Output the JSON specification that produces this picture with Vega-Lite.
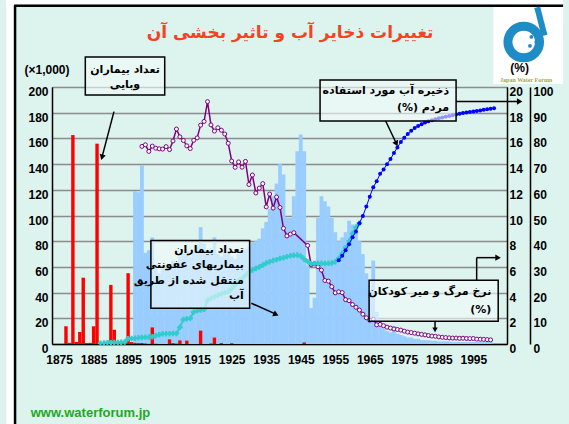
{
"$schema": "https://vega.github.io/schema/vega-lite/v6.json",
"width": 455, "height": 257,
"autosize": {"type": "none"},
"padding": {"left": 52, "top": 87, "right": 62, "bottom": 80},
"background": "#ddf3ee",
"config": {
  "view": {"stroke": "#555", "strokeWidth": 1},
  "axis": {"labelFont": "Liberation Sans", "labelFontWeight": "bold", "labelFontSize": 12, "labelColor": "#000", "ticks": false, "domainColor": "#000", "domainWidth": 1.5, "grid": false, "labelFlush": false, "labelOverlap": false},
  "axisY": {"labelOffset": 4.5, "labelBaseline": "middle"}
},
"datasets": {
  "infect": [
    {"year":1897,"v":119},{"year":1898,"v":118},{"year":1899,"v":139},{"year":1900,"v":71},{"year":1901,"v":73},{"year":1902,"v":83},
    {"year":1903,"v":62},{"year":1904,"v":55},{"year":1905,"v":60},{"year":1906,"v":58},{"year":1907,"v":62},{"year":1908,"v":65},
    {"year":1909,"v":60},{"year":1910,"v":68},{"year":1911,"v":70},{"year":1912,"v":72},{"year":1913,"v":68},{"year":1914,"v":72},
    {"year":1915,"v":76},{"year":1916,"v":91},{"year":1917,"v":78},{"year":1918,"v":70},{"year":1919,"v":74},{"year":1920,"v":83},
    {"year":1921,"v":70},{"year":1922,"v":68},{"year":1923,"v":72},{"year":1924,"v":70},{"year":1925,"v":68},{"year":1926,"v":66},
    {"year":1927,"v":70},{"year":1928,"v":72},{"year":1929,"v":74},{"year":1930,"v":76},{"year":1931,"v":79},{"year":1932,"v":80},
    {"year":1933,"v":82},{"year":1934,"v":90},{"year":1935,"v":95},{"year":1936,"v":105},{"year":1937,"v":115},{"year":1938,"v":125},
    {"year":1939,"v":140},{"year":1940,"v":132},{"year":1941,"v":98},{"year":1942,"v":98},{"year":1943,"v":115},{"year":1944,"v":150},
    {"year":1945,"v":163},{"year":1946,"v":150},{"year":1947,"v":61},{"year":1948,"v":28},{"year":1949,"v":36},{"year":1950,"v":98},
    {"year":1951,"v":115},{"year":1952,"v":111},{"year":1953,"v":107},{"year":1954,"v":98},{"year":1955,"v":87},{"year":1956,"v":80},
    {"year":1957,"v":83},{"year":1958,"v":87},{"year":1959,"v":96},{"year":1960,"v":93},{"year":1961,"v":88},{"year":1962,"v":80},
    {"year":1963,"v":70},{"year":1964,"v":55},{"year":1965,"v":42},{"year":1966,"v":65},{"year":1967,"v":25},{"year":1968,"v":16},
    {"year":1969,"v":12},{"year":1970,"v":10},{"year":1971,"v":9},{"year":1972,"v":14},{"year":1973,"v":8},{"year":1974,"v":7},
    {"year":1975,"v":6},{"year":1976,"v":5},{"year":1977,"v":5},{"year":1978,"v":4},{"year":1979,"v":4},{"year":1980,"v":3},
    {"year":1981,"v":3},{"year":1982,"v":3},{"year":1983,"v":2.5},{"year":1984,"v":2.5},{"year":1985,"v":2},{"year":1986,"v":2},
    {"year":1987,"v":2},{"year":1988,"v":2},{"year":1989,"v":1.5},{"year":1990,"v":1.5},{"year":1991,"v":1.5},{"year":1992,"v":1.5},
    {"year":1993,"v":1.5},{"year":1994,"v":1.5},{"year":1995,"v":1.5},{"year":1996,"v":1.5},{"year":1997,"v":1.5},{"year":1998,"v":1.5},
    {"year":1999,"v":1.5},{"year":2000,"v":1.5}
  ],
  "cholera": [
    {"year":1877,"v":13.8},{"year":1878,"v":0.9},{"year":1879,"v":162.6},{"year":1880,"v":1.6},{"year":1881,"v":9.4},{"year":1882,"v":51.6},
    {"year":1883,"v":0.7},{"year":1884,"v":0.9},{"year":1885,"v":13.8},{"year":1886,"v":155.9},{"year":1887,"v":1.2},{"year":1888,"v":0.8},
    {"year":1889,"v":0.8},{"year":1890,"v":46.0},{"year":1891,"v":11.1},{"year":1892,"v":0.9},{"year":1893,"v":0.6},{"year":1894,"v":0.5},
    {"year":1895,"v":55.1},{"year":1896,"v":1.5},{"year":1897,"v":0.9},{"year":1898,"v":0.7},{"year":1899,"v":0.8},{"year":1900,"v":0.4},
    {"year":1901,"v":0.1},{"year":1902,"v":12.9},{"year":1903,"v":0.2},{"year":1907,"v":3.6},{"year":1908,"v":0.7},{"year":1909,"v":0.3},
    {"year":1910,"v":2.8},{"year":1912,"v":2.6},{"year":1916,"v":10.4},{"year":1919,"v":0.4},{"year":1920,"v":5.0},{"year":1922,"v":0.7},
    {"year":1925,"v":0.6},{"year":1946,"v":1.2}
  ],
  "mort": [
    {"year":1899,"v":15.38},{"year":1900,"v":15.5},{"year":1901,"v":14.99},{"year":1902,"v":15.4},{"year":1903,"v":15.24},{"year":1904,"v":15.19},
    {"year":1905,"v":15.17},{"year":1906,"v":15.36},{"year":1907,"v":15.13},{"year":1908,"v":15.8},{"year":1909,"v":16.73},{"year":1910,"v":16.12},
    {"year":1911,"v":15.84},{"year":1912,"v":15.42},{"year":1913,"v":15.21},{"year":1914,"v":15.85},{"year":1915,"v":16.04},{"year":1916,"v":17.03},
    {"year":1917,"v":17.32},{"year":1918,"v":18.86},{"year":1919,"v":17.05},{"year":1920,"v":16.57},{"year":1921,"v":16.83},{"year":1922,"v":16.64},
    {"year":1923,"v":16.34},{"year":1924,"v":15.62},{"year":1925,"v":14.24},{"year":1926,"v":13.75},{"year":1927,"v":14.17},{"year":1928,"v":13.76},
    {"year":1929,"v":14.21},{"year":1930,"v":12.41},{"year":1931,"v":13.15},{"year":1932,"v":11.75},{"year":1933,"v":12.13},{"year":1934,"v":12.48},
    {"year":1935,"v":10.67},{"year":1936,"v":11.67},{"year":1937,"v":10.58},{"year":1938,"v":11.44},{"year":1939,"v":10.62},{"year":1940,"v":9.0},
    {"year":1941,"v":8.41},{"year":1942,"v":8.55},{"year":1943,"v":8.66},{"year":1947,"v":7.67},{"year":1948,"v":6.17},{"year":1949,"v":6.25},
    {"year":1950,"v":6.01},{"year":1951,"v":5.75},{"year":1952,"v":4.94},{"year":1953,"v":4.89},{"year":1954,"v":4.46},{"year":1955,"v":3.98},
    {"year":1956,"v":4.06},{"year":1957,"v":4.0},{"year":1958,"v":3.45},{"year":1959,"v":3.37},{"year":1960,"v":3.07},{"year":1961,"v":2.86},
    {"year":1962,"v":2.64},{"year":1963,"v":2.32},{"year":1964,"v":2.04},{"year":1965,"v":1.85},{"year":1966,"v":1.93},{"year":1967,"v":1.49},
    {"year":1968,"v":1.53},{"year":1969,"v":1.42},{"year":1970,"v":1.31},{"year":1971,"v":1.24},{"year":1972,"v":1.17},{"year":1973,"v":1.13},
    {"year":1974,"v":1.08},{"year":1975,"v":1.0},{"year":1976,"v":0.93},{"year":1977,"v":0.89},{"year":1978,"v":0.84},{"year":1979,"v":0.79},
    {"year":1980,"v":0.75},{"year":1981,"v":0.71},{"year":1982,"v":0.66},{"year":1983,"v":0.62},{"year":1984,"v":0.6},{"year":1985,"v":0.55},
    {"year":1986,"v":0.52},{"year":1987,"v":0.5},{"year":1988,"v":0.48},{"year":1989,"v":0.46},{"year":1990,"v":0.46},{"year":1991,"v":0.44},
    {"year":1992,"v":0.45},{"year":1993,"v":0.43},{"year":1994,"v":0.42},{"year":1995,"v":0.43},{"year":1996,"v":0.38},{"year":1997,"v":0.37},
    {"year":1998,"v":0.36},{"year":1999,"v":0.34},{"year":2000,"v":0.32}
  ],
  "teal": [
    {"year":1887,"v":0.3},{"year":1888,"v":0.4},{"year":1889,"v":0.5},{"year":1890,"v":0.5},{"year":1891,"v":0.6},{"year":1892,"v":0.6},
    {"year":1893,"v":0.7},{"year":1894,"v":0.8},{"year":1895,"v":2.0},{"year":1896,"v":2.1},{"year":1897,"v":2.2},{"year":1898,"v":2.4},
    {"year":1899,"v":2.5},{"year":1900,"v":2.6},{"year":1901,"v":2.7},{"year":1902,"v":2.8},{"year":1903,"v":3.2},{"year":1904,"v":3.6},
    {"year":1905,"v":4.0},{"year":1906,"v":4.0},{"year":1907,"v":4.0},{"year":1908,"v":4.1},{"year":1909,"v":4.1},{"year":1910,"v":6.5},
    {"year":1911,"v":9.5},{"year":1912,"v":9.8},{"year":1913,"v":10.0},{"year":1914,"v":12.4},{"year":1915,"v":13.0},{"year":1916,"v":13.2},
    {"year":1917,"v":13.5},{"year":1918,"v":17.0},{"year":1919,"v":17.8},{"year":1920,"v":18.3},{"year":1921,"v":19.0},{"year":1922,"v":19.5},
    {"year":1923,"v":20.0},{"year":1924,"v":20.4},{"year":1925,"v":21.5},{"year":1926,"v":23.0},{"year":1927,"v":24.5},{"year":1928,"v":25.5},
    {"year":1929,"v":26.8},{"year":1930,"v":28.0},{"year":1931,"v":28.8},{"year":1932,"v":29.4},{"year":1933,"v":30.0},{"year":1934,"v":30.7},
    {"year":1935,"v":31.5},{"year":1936,"v":32.0},{"year":1937,"v":32.5},{"year":1938,"v":32.8},{"year":1939,"v":33.3},{"year":1940,"v":33.6},
    {"year":1941,"v":34.0},{"year":1942,"v":34.3},{"year":1943,"v":34.5},{"year":1944,"v":34.6},{"year":1945,"v":34.2},{"year":1946,"v":33.0},
    {"year":1947,"v":32.0},{"year":1948,"v":31.3},{"year":1949,"v":31.3},{"year":1950,"v":31.3},{"year":1951,"v":31.4},{"year":1952,"v":31.3},
    {"year":1953,"v":31.4},{"year":1954,"v":31.5},{"year":1955,"v":32.0},{"year":1956,"v":33.3},{"year":1957,"v":35.2},{"year":1958,"v":37.5},
    {"year":1959,"v":40.0},{"year":1960,"v":43.0},{"year":1961,"v":45.5},{"year":1962,"v":47.0}
  ],
  "cover": [
    {"year":1956,"v":32.6},{"year":1957,"v":34.3},{"year":1958,"v":36.5},{"year":1959,"v":38.8},{"year":1960,"v":41.5},{"year":1961,"v":43.8},
    {"year":1962,"v":47.0},{"year":1963,"v":49.8},{"year":1964,"v":53.5},{"year":1965,"v":57.3},{"year":1966,"v":61.0},{"year":1967,"v":63.3},
    {"year":1968,"v":66.2},{"year":1969,"v":67.9},{"year":1970,"v":69.9},{"year":1971,"v":72.0},{"year":1972,"v":74.3},{"year":1973,"v":76.5},
    {"year":1974,"v":78.6},{"year":1975,"v":80.3},{"year":1976,"v":81.7},{"year":1977,"v":83.0},{"year":1978,"v":84.0},{"year":1979,"v":84.8},
    {"year":1980,"v":85.5},{"year":1981,"v":86.2},{"year":1982,"v":86.7},{"year":1983,"v":87.1},{"year":1984,"v":87.5},{"year":1985,"v":87.8},
    {"year":1986,"v":88.1},{"year":1987,"v":88.4},{"year":1988,"v":88.7},{"year":1989,"v":89.0},{"year":1990,"v":89.3},{"year":1991,"v":89.6},
    {"year":1992,"v":89.9},{"year":1993,"v":90.1},{"year":1994,"v":90.3},{"year":1995,"v":90.5},{"year":1996,"v":90.7},{"year":1997,"v":90.9},
    {"year":1998,"v":91.1},{"year":1999,"v":91.3},{"year":2000,"v":91.5},{"year":2001,"v":91.7}
  ],
  "boxes": [
    {"year":1882.6,"year2":1905.6,"v":223.4,"v2":193.8},
    {"year":1950.6,"year2":1990.0,"v":205.4,"v2":173.5},
    {"year":1901.6,"year2":1930.2,"v":80.6,"v2":27.8},
    {"year":1964.8,"year2":2002.2,"v":49.6,"v2":17.7}
  ],
  "arrows": [
    {"year":1890.9,"year2":1887.4,"v":180.8,"v2":145.0},
    {"year":1990.0,"year2":2008.0,"v":188.7,"v2":188.7},
    {"year":1969.6,"year2":1972.7,"v":173.5,"v2":156.0},
    {"year":1930.7,"year2":1937.8,"v":31.7,"v2":23.2},
    {"year":1995.96,"year2":1995.96,"v":49.6,"v2":67.2},
    {"year":1995.96,"year2":2001.9,"v":67.2,"v2":67.2},
    {"year":1983.9,"year2":1983.9,"v":17.1,"v2":11.0}
  ],
  "labelsRight": [
    {"year":1988.0,"v":196.5,"t":"ذخیره آب مورد استفاده"},
    {"year":1988.0,"v":183.7,"t":"(%) مردم"},
    {"year":1928.5,"v":73.0,"t":"تعداد بیماران"},
    {"year":1928.5,"v":61.3,"t":"بیماریهای عفونتی"},
    {"year":1928.5,"v":49.2,"t":"منتقل شده از طریق"},
    {"year":1928.5,"v":37.6,"t":"آب"},
    {"year":2000.2,"v":40.5,"t":"نرخ مرگ و میر کودکان"},
    {"year":2000.2,"v":26.3,"t":"(%)"}
  ],
  "labelsCenter": [
    {"year":1894.1,"v":213.3,"t":"تعداد بیماران"},
    {"year":1894.1,"v":201.6,"t":"وبایی"}
  ]
},
"encoding": {
  "x": {"field": "year", "type": "quantitative",
        "scale": {"domain": [1874.4, 2003.3], "nice": false, "zero": false},
        "axis": {"values": [1875,1885,1895,1905,1915,1925,1935,1945,1955,1965,1975,1985,1995], "format": "d", "labelPadding": 10, "title": null}}
},
"layer": [
  {
    "encoding": {"y": {"field": "v", "type": "quantitative",
      "scale": {"domain": [0, 200], "nice": false},
      "axis": {"orient": "left", "values": [0,20,40,60,80,100,120,140,160,180,200], "labelPadding": 4, "grid": true, "gridColor": "#8c8c8c", "gridWidth": 1.5, "title": null}}},
    "layer": [
      {"data": {"name": "infect"}, "mark": {"type": "bar", "orient": "vertical", "color": "#99ccff", "size": 3.8}},
      {"data": {"name": "cholera"}, "mark": {"type": "bar", "orient": "vertical", "color": "#ff0000", "size": 3.4}}
    ]
  },
  {
    "data": {"name": "mort"},
    "mark": {"type": "line", "color": "#800080", "strokeWidth": 1.5,
             "point": {"shape": "circle", "filled": true, "fill": "#ffffff", "stroke": "#800080", "strokeWidth": 1, "size": 16}},
    "encoding": {"y": {"field": "v", "type": "quantitative",
      "scale": {"domain": [0, 20], "nice": false},
      "axis": {"orient": "right", "values": [0,2,4,6,8,10,12,14,16,18,20], "labelPadding": 2, "title": null}}}
  },
  {
    "encoding": {"y": {"field": "v", "type": "quantitative",
      "scale": {"domain": [0, 100], "nice": false},
      "axis": {"orient": "right", "offset": 23, "values": [0,10,20,30,40,50,60,70,80,90,100], "labelPadding": 3, "title": null}}},
    "layer": [
      {"data": {"name": "teal"}, "mark": {"type": "line", "color": "#33cccc", "strokeWidth": 2,
        "point": {"shape": "cross", "filled": true, "fill": "#33cccc", "size": 30}}},
      {"data": {"name": "cover"}, "mark": {"type": "line", "color": "#0000ff", "strokeWidth": 1,
        "point": {"shape": "circle", "filled": true, "fill": "#0000ff", "size": 16}}}
    ]
  },
  {
    "encoding": {"y": {"field": "v", "type": "quantitative", "scale": {"domain": [0, 200], "nice": false}, "axis": null}},
    "layer": [
      {"data": {"values": [{"year":1859.7,"year2":1862.0,"v":267.8,"v2":-62.6},{"year":1859.7,"year2":2021.0,"v":267.8,"v2":264.3},{"year":2000.8,"year2":2021.0,"v":262.4,"v2":202.4}]},
       "mark": {"type": "rect", "fill": "#ffffff"},
       "encoding": {"x2": {"field": "year2"}, "y2": {"field": "v2"}}},
      {"data": {"values": [{"year":1862.25,"year2":1862.25,"v":263.6,"v2":-62.6},{"year":1862.0,"year2":2021.0,"v":263.3,"v2":263.3}]},
       "mark": {"type": "rule", "color": "#000000", "strokeWidth": 2.5},
       "encoding": {"x2": {"field": "year2"}, "y2": {"field": "v2"}}},
      {"data": {"values": [{"year":2009.6,"v":235.0}]},
       "mark": {"type": "point", "shape": "circle", "filled": false, "stroke": "#1f8cc6", "strokeWidth": 9, "size": 1000, "opacity": 1}},
      {"data": {"values": [{"year":2015.6,"year2":2013.5,"v":240.0,"v2":262.0}]},
       "mark": {"type": "rule", "color": "#1f8cc6", "strokeWidth": 6},
       "encoding": {"x2": {"field": "year2"}, "y2": {"field": "v2"}}},
      {"data": {"values": [{"year":2011.8,"v":239.0},{"year":2013.2,"v":235.0},{"year":2011.4,"v":232.0}]},
       "mark": {"type": "point", "shape": "circle", "filled": true, "fill": "#1f8cc6", "size": 14, "opacity": 1}},
      {"data": {"values": [{"year":2010.3,"v":205.8,"t":"Japan Water Forum"}]},
       "mark": {"type": "text", "font": "Liberation Serif", "fontSize": 6, "fontWeight": "bold", "color": "#9aaa50", "align": "center", "baseline": "middle"},
       "encoding": {"text": {"field": "t"}}},
      {"data": {"name": "boxes"},
       "mark": {"type": "rect", "fill": "#f4fbfa", "fillOpacity": 0.6, "stroke": "#000000", "strokeWidth": 1.5},
       "encoding": {"x2": {"field": "year2"}, "y2": {"field": "v2"}}},
      {"data": {"name": "arrows"},
       "mark": {"type": "rule", "color": "#000000", "strokeWidth": 1.5},
       "encoding": {"x2": {"field": "year2"}, "y2": {"field": "v2"}}},
      {"data": {"values": [{"year":1887.5,"v":146.0}]}, "mark": {"type": "point", "shape": "triangle", "angle": 195, "filled": true, "color": "#000", "size": 40, "opacity": 1}},
      {"data": {"values": [{"year":2008.15,"v":188.7},{"year":2001.9,"v":67.2}]}, "mark": {"type": "point", "shape": "triangle", "angle": 90, "filled": true, "color": "#000", "size": 40, "opacity": 1}},
      {"data": {"values": [{"year":1972.6,"v":156.5}]}, "mark": {"type": "point", "shape": "triangle", "angle": 154, "filled": true, "color": "#000", "size": 40, "opacity": 1}},
      {"data": {"values": [{"year":1937.6,"v":23.3}]}, "mark": {"type": "point", "shape": "triangle", "angle": 114, "filled": true, "color": "#000", "size": 40, "opacity": 1}},
      {"data": {"values": [{"year":1983.9,"v":11.7}]}, "mark": {"type": "point", "shape": "triangle", "angle": 180, "filled": true, "color": "#000", "size": 30, "opacity": 1}},
      {"data": {"name": "labelsRight"},
       "mark": {"type": "text", "font": "DejaVu Sans", "fontSize": 11, "fontWeight": "bold", "color": "#000", "align": "right", "baseline": "middle"},
       "encoding": {"text": {"field": "t"}}},
      {"data": {"name": "labelsCenter"},
       "mark": {"type": "text", "font": "DejaVu Sans", "fontSize": 11, "fontWeight": "bold", "color": "#000", "align": "center", "baseline": "middle"},
       "encoding": {"text": {"field": "t"}}},
      {"data": {"values": [{"year":1871.5,"v":212.9,"t":"(×1,000)"},{"year":2008.4,"v":214.4,"t":"(%)"}]},
       "mark": {"type": "text", "font": "Liberation Sans", "fontSize": 12, "fontWeight": "bold", "color": "#000", "align": "center", "baseline": "middle"},
       "encoding": {"text": {"field": "t"}}},
      {"data": {"values": [{"year":1941.9,"v":242.1,"t":"تغییرات ذخایر آب و تاثیر بخشی آن"}]},
       "mark": {"type": "text", "font": "DejaVu Sans", "fontSize": 17, "fontWeight": "bold", "color": "#f44322", "align": "center", "baseline": "middle"},
       "encoding": {"text": {"field": "t"}}},
      {"data": {"values": [{"year":1866.8,"v":-54.0,"t":"www.waterforum.jp"}]},
       "mark": {"type": "text", "font": "Liberation Sans", "fontSize": 13, "fontWeight": "bold", "color": "#22a822", "align": "left", "baseline": "middle"},
       "encoding": {"text": {"field": "t"}}}
    ]
  }
],
"resolve": {"scale": {"y": "independent"}, "axis": {"y": "independent"}}
}
